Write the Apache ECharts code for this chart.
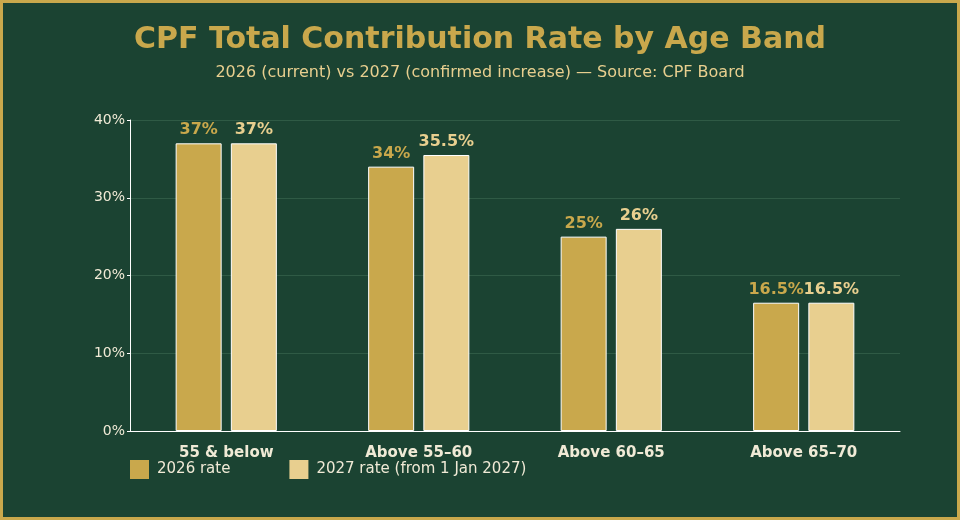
<!DOCTYPE html>
<html>
<head>
<meta charset="utf-8">
<script src="https://cdn.jsdelivr.net/npm/echarts@6/dist/echarts.min.js"></script>
<style>
  html, body { margin: 0; padding: 0; background: #1b4332; }
  #chart { width: 960px; height: 520px; }
</style>
</head>
<body>
<div id="chart"></div>
<script>
// Age bands and contribution rates (%)
const ageBands = ['55 & below', 'Above 55\u201360', 'Above 60\u201365', 'Above 65\u201370'];
const rate2026 = [37, 34, 25, 16.5];
const rate2027 = [37, 35.5, 26, 16.5];
const yTicks = [0, 10, 20, 30, 40];

const gold = '#c9a84c';
const lightGold = '#e8cf8f';
const textColor = '#f0ead6';

const chart = echarts.init(document.getElementById('chart'), null, { renderer: 'canvas' });

chart.setOption({
    backgroundColor: '#1b4332',
    textStyle: { fontFamily: 'DejaVu Sans' },
    // gold frame round the whole picture
    graphic: [{
        type: 'rect',
        silent: true,
        shape: { x: 1.5, y: 1.5, width: 957, height: 517 },
        style: { fill: 'none', stroke: gold, lineWidth: 3 }
    }],
    title: {
        text: 'CPF Total Contribution Rate by Age Band',
        subtext: '2026 (current) vs 2027 (confirmed increase) \u2014 Source: CPF Board',
        left: 'center',
        top: 20,
        itemGap: 10,
        textStyle: { color: gold, fontSize: 30, fontWeight: 'bold', fontFamily: 'DejaVu Sans' },
        subtextStyle: { color: lightGold, fontSize: 16, fontFamily: 'DejaVu Sans' }
    },
    legend: {
        left: 125,
        top: 455,
        itemWidth: 19,
        itemHeight: 19,
        itemGap: 59,
        icon: 'rect',
        itemStyle: { borderWidth: 0 },
        textStyle: { color: textColor, fontSize: 15, fontFamily: 'DejaVu Sans', padding: [0, 0, 0, 3] },
        data: ['2026 rate', '2027 rate (from 1 Jan 2027)']
    },
    grid: { left: 130, right: 60, top: 120, bottom: 89 },
    xAxis: {
        type: 'category',
        data: ageBands,
        axisLine: { lineStyle: { color: '#ffffff', width: 1 } },
        axisTick: { show: false },
        axisLabel: { color: textColor, fontSize: 15, fontWeight: 'bold', margin: 15 }
    },
    yAxis: {
        type: 'value',
        min: yTicks[0],
        max: yTicks[yTicks.length - 1],
        interval: 10,
        axisLine: { show: true, lineStyle: { color: '#ffffff', width: 1 } },
        axisTick: { show: true, length: 3, lineStyle: { color: '#ffffff' } },
        axisLabel: { color: textColor, fontSize: 14, formatter: '{value}%', margin: 5 },
        splitLine: { lineStyle: { color: '#2f5a45' } }
    },
    series: [
        {
            name: '2026 rate',
            type: 'bar',
            data: rate2026,
            barWidth: 46,
            barGap: '20%',
            itemStyle: { color: gold, borderColor: '#ffffff', borderWidth: 1 },
            label: {
                show: true, position: 'top', distance: 5,
                color: gold, fontSize: 16, fontWeight: 'bold',
                formatter: p => p.value + '%'
            }
        },
        {
            name: '2027 rate (from 1 Jan 2027)',
            type: 'bar',
            data: rate2027,
            barWidth: 46,
            itemStyle: { color: lightGold, borderColor: '#ffffff', borderWidth: 1 },
            label: {
                show: true, position: 'top', distance: 5,
                color: lightGold, fontSize: 16, fontWeight: 'bold',
                formatter: p => p.value + '%'
            }
        }
    ]
});
</script>
</body>
</html>
